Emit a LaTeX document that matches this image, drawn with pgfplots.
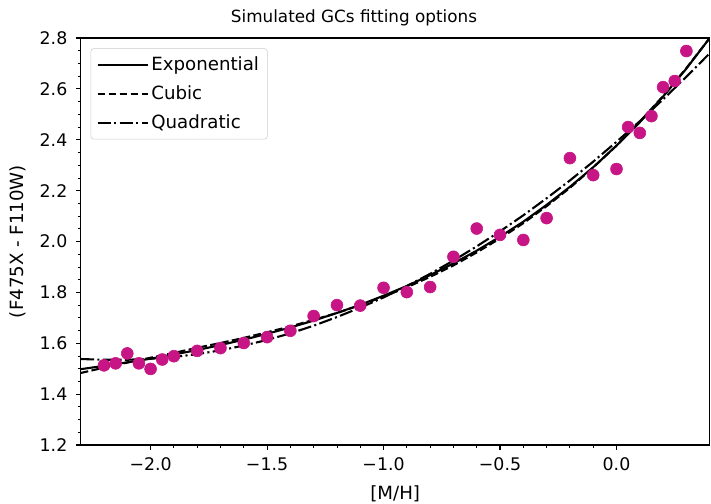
\documentclass[border=0pt]{standalone}
\usepackage{pgfplots}
\pgfplotsset{compat=1.18}
\usepackage{pgfplotstable}
\usepackage{fontspec}
\setmainfont{DejaVu Sans}
\definecolor{gcmag}{HTML}{C71585}
\newcommand{\tickfont}{\fontsize{12.5}{15}\selectfont}
\newcommand{\lblfont}{\fontsize{13.1}{15.7}\selectfont}
\newcommand{\ttlfont}{\fontsize{12.1}{14.5}\selectfont}

% simulated globular clusters: metallicity vs colour
\pgfplotstableread{
x y
-2.20 1.513
-2.15 1.521
-2.10 1.560
-2.05 1.521
-2.00 1.499
-1.95 1.536
-1.90 1.549
-1.80 1.570
-1.70 1.581
-1.60 1.601
-1.50 1.624
-1.40 1.649
-1.30 1.707
-1.20 1.750
-1.10 1.748
-1.00 1.818
-0.90 1.801
-0.80 1.821
-0.70 1.940
-0.60 2.051
-0.50 2.026
-0.40 2.006
-0.30 2.092
-0.20 2.328
-0.10 2.261
0.00 2.285
0.05 2.450
0.10 2.427
0.15 2.493
0.20 2.607
0.25 2.631
0.30 2.749
}\gcdata

\begin{document}
\begin{tikzpicture}
\begin{axis}[
  name=ax,
  scale only axis,
  width=452.9pt, height=293pt,
  xmin=-2.3, xmax=0.4, ymin=1.2, ymax=2.8,
  xtick={-2,-1.5,-1,-0.5,0},
  xticklabels={−2.0,−1.5,−1.0,−0.5,0.0},
  ytick={1.2,1.4,1.6,1.8,2.0,2.2,2.4,2.6,2.8},
  yticklabels={1.2,1.4,1.6,1.8,2.0,2.2,2.4,2.6,2.8},
  minor x tick num=4,
  minor y tick num=3,
  tick align=outside,
  tick pos=left,
  major tick length=3.5pt,
  minor tick length=2pt,
  every tick/.style={black, line width=0.8pt},
  every minor tick/.style={black, line width=0.6pt},
  axis line style={line width=0.8pt},
  tick label style={font=\tickfont},
  xticklabel style={yshift=-2pt},
  yticklabel style={xshift=-2.6pt},
  label style={font=\lblfont},
  xlabel style={yshift=-4pt},
  ylabel style={yshift=3pt},
  title style={font=\ttlfont, at={(0.4345,1)}, anchor=base, yshift=5pt},
  title={Simulated GCs fitting options},
  xlabel={[M/H]},
  ylabel={(F475X - F110W)},
  legend style={at={(0,1)}, anchor=north west, xshift=7.2pt, yshift=-7.4pt,
    draw=black!20, rounded corners=2pt, fill=white, fill opacity=0.8, text opacity=1,
    font=\lblfont, inner xsep=4pt, inner ysep=4pt, row sep=5.4pt},
  legend cell align=left,
  legend image code/.code={\draw[#1] (0pt,0pt) -- (26pt,0pt); \path (0pt,0pt) -- (36pt,0pt);},
]
% exponential fit
\addplot[black, line width=1.5pt] coordinates {
(-2.3,1.498) (-2.2,1.511) (-2.1,1.525) (-2.0,1.539) (-1.9,1.556) (-1.8,1.573)
(-1.7,1.593) (-1.6,1.614) (-1.5,1.637) (-1.4,1.662) (-1.3,1.689) (-1.2,1.719)
(-1.1,1.751) (-1.0,1.787) (-0.9,1.825) (-0.8,1.868) (-0.7,1.914) (-0.6,1.964)
(-0.5,2.019) (-0.4,2.078) (-0.3,2.144) (-0.2,2.215) (-0.1,2.292) (0.0,2.377)
(0.1,2.469) (0.2,2.570) (0.3,2.680) (0.4,2.800)};
\addlegendentry{Exponential}
% cubic fit
\addplot[black, line width=1.5pt, dash pattern=on 5.55pt off 2.4pt] coordinates {
(-2.3,1.483) (-2.2,1.504) (-2.1,1.524) (-2.0,1.543) (-1.9,1.562) (-1.8,1.582)
(-1.7,1.601) (-1.6,1.621) (-1.5,1.643) (-1.4,1.666) (-1.3,1.692) (-1.2,1.719)
(-1.1,1.750) (-1.0,1.783) (-0.9,1.820) (-0.8,1.861) (-0.7,1.906) (-0.6,1.957)
(-0.5,2.012) (-0.4,2.072) (-0.3,2.139) (-0.2,2.211) (-0.1,2.291) (0.0,2.377)
(0.1,2.471) (0.2,2.572) (0.3,2.682) (0.4,2.800)};
\addlegendentry{Cubic}
% quadratic fit
\addplot[black, line width=1.5pt, dash pattern=on 9.6pt off 2.4pt on 1.5pt off 2.4pt] coordinates {
(-2.3,1.538) (-2.2,1.535) (-2.1,1.535) (-2.0,1.539) (-1.9,1.546) (-1.8,1.557)
(-1.7,1.572) (-1.6,1.591) (-1.5,1.613) (-1.4,1.639) (-1.3,1.669) (-1.2,1.703)
(-1.1,1.740) (-1.0,1.780) (-0.9,1.825) (-0.8,1.873) (-0.7,1.925) (-0.6,1.981)
(-0.5,2.040) (-0.4,2.103) (-0.3,2.170) (-0.2,2.240) (-0.1,2.314) (0.0,2.392)
(0.1,2.473) (0.2,2.559) (0.3,2.648) (0.4,2.740)};
\addlegendentry{Quadratic}
% cluster colours
\addplot[only marks, mark=*, mark size=4.3pt, color=gcmag,
  mark options={draw=none, fill=gcmag}, forget plot] table[x=x, y=y] {\gcdata};
\end{axis}
\pgfresetboundingbox
\path[use as bounding box] ([xshift=-58.1pt,yshift=-42.5pt]ax.south west) rectangle ([xshift=0.94pt,yshift=27.4pt]ax.north east);
\end{tikzpicture}
\end{document}
